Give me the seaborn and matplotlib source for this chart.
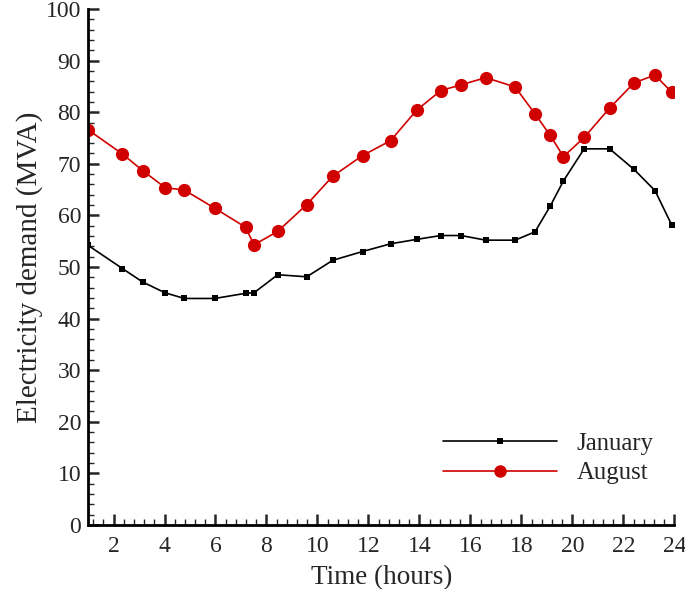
import matplotlib
matplotlib.use("Agg")
import matplotlib.pyplot as plt
from matplotlib.ticker import MultipleLocator
from matplotlib.lines import Line2D
import seaborn as sns
import pandas as pd

hours = [1.0, 2.35, 3.14, 4.02, 4.78, 5.97, 7.18, 7.51, 8.44, 9.58, 10.6, 11.77,
         12.87, 13.89, 14.84, 15.63, 16.6, 17.75, 18.53, 19.13, 19.65, 20.46,
         21.46, 22.42, 23.24, 23.89]
january = [54.2, 49.7, 47.1, 45.0, 43.9, 43.9, 44.9, 45.0, 48.5, 48.1, 51.3, 53.0,
           54.5, 55.35, 56.1, 56.1, 55.2, 55.2, 56.8, 61.8, 66.7, 72.9,
           72.9, 68.9, 64.8, 58.2]
august = [76.6, 71.9, 68.7, 65.4, 64.9, 61.4, 57.7, 54.3, 56.9, 62.1, 67.6, 71.6,
          74.5, 80.4, 84.2, 85.3, 86.7, 84.9, 79.7, 75.5, 71.4, 75.1,
          80.8, 85.7, 87.2, 83.9]
series_names = ["January", "August"]
x_ticks = list(range(2, 25, 2))
y_ticks = list(range(0, 101, 10))

df = pd.DataFrame({
    "hour": hours * 2,
    "value": january + august,
    "month": [series_names[0]] * len(hours) + [series_names[1]] * len(hours),
})

sns.set_style("ticks")
plt.rcParams["font.family"] = ["Liberation Serif", "DejaVu Serif"]

RED = "#d00000"
fig = plt.figure(figsize=(6.85, 5.89), dpi=100)
ax = fig.add_axes([0.1285, 0.1087, 0.856, 0.876])

sns.lineplot(data=df, x="hour", y="value", hue="month", style="month",
             palette={"January": "black", "August": RED},
             markers={"January": "s", "August": "o"}, dashes=False,
             markersize=5, linewidth=1.2, markeredgewidth=0, ax=ax, legend=False)
for line in ax.get_lines():
    if line.get_marker() == "o":
        line.set_markersize(9.5)

ax.set_xlim(1, 24)
ax.set_ylim(0, 100)
ax.set_xticks(x_ticks)
ax.set_yticks(y_ticks)
ax.xaxis.set_minor_locator(MultipleLocator(0.4))
ax.yaxis.set_minor_locator(MultipleLocator(2))
ax.tick_params(which="major", direction="in", length=8, width=1.8, labelsize=17)
ax.tick_params(axis="x", which="major", pad=8)
ax.tick_params(axis="y", which="major", pad=5)
ax.tick_params(which="minor", direction="in", length=4, width=1.0)
for s in ["top", "right"]:
    ax.spines[s].set_visible(False)
for s in ["left", "bottom"]:
    ax.spines[s].set_linewidth(2)
    ax.spines[s].set_color("black")

ax.set_xlabel("Time (hours)", fontsize=19.5, labelpad=6)
ax.set_ylabel("Electricity demand (MVA)", fontsize=21, labelpad=2)

handles = [
    Line2D([], [], color="black", marker="s", markersize=5, lw=1.2, markeredgewidth=0),
    Line2D([], [], color=RED, marker="o", markersize=9, lw=1.2, markeredgewidth=0),
]
ax.legend(handles, series_names, loc="lower right", bbox_to_anchor=(0.99, 0.05),
          frameon=False, fontsize=17.8, handlelength=4.6, labelspacing=0.3,
          handletextpad=0.8, borderaxespad=0.2)

fig.savefig("out.png", dpi=100)
